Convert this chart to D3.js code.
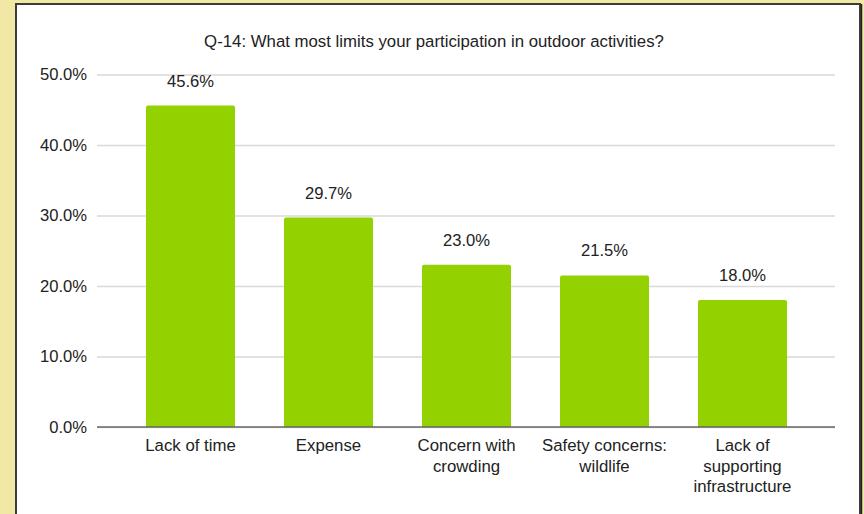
<!DOCTYPE html>
<html>
<head>
<meta charset="utf-8">
<script src="https://cdn.jsdelivr.net/npm/d3@7"></script>
<style>
  html, body { margin: 0; padding: 0; background: #f2e8a6; }
  svg { display: block; font-family: "Liberation Sans", Arial, sans-serif; }
</style>
</head>
<body>
<svg id="chart" width="864" height="514"></svg>
<script>
// Survey responses: share of respondents naming each limiting factor
const categories = [
  ["Lack of time"],
  ["Expense"],
  ["Concern with", "crowding"],
  ["Safety concerns:", "wildlife"],
  ["Lack of", "supporting", "infrastructure"]
];
const values = [45.6, 29.7, 23.0, 21.5, 18.0];
const yTicks = [0, 10, 20, 30, 40, 50];
const title = "Q-14: What most limits your participation in outdoor activities?";

const svg = d3.select("#chart");

// card panel with dark frame
svg.append("rect")
  .attr("x", 16).attr("y", 4)
  .attr("width", 844).attr("height", 530)
  .attr("fill", "#ffffff")
  .attr("stroke", "#3c3c3c")
  .attr("stroke-width", 2);
svg.append("line")
  .attr("x1", 861.5).attr("x2", 861.5)
  .attr("y1", 4).attr("y2", 514)
  .attr("stroke", "#222")
  .attr("stroke-width", 1.5);

const plot = { left: 97, right: 835, top: 74.5, bottom: 427 };

const y = d3.scaleLinear().domain([0, 50]).range([plot.bottom, plot.top]);
const x = d3.scaleBand()
  .domain(d3.range(values.length))
  .range([121.5, 811.5])
  .paddingInner(0.355)
  .paddingOuter(0.1775);

// gridlines + y tick labels
const yAxis = d3.axisLeft(y)
  .tickValues(yTicks)
  .tickSize(-(plot.right - plot.left))
  .tickPadding(10)
  .tickFormat(d => d.toFixed(1) + "%");

const gy = svg.append("g")
  .attr("transform", `translate(${plot.left},0)`)
  .call(yAxis);
gy.select(".domain").remove();
gy.selectAll(".tick line")
  .attr("stroke", "#d9d9d9")
  .attr("stroke-width", 1.5);
gy.selectAll(".tick text")
  .attr("fill", "#222")
  .attr("font-size", 16.6)
  .attr("x", -10);

// bars with softly rounded tops
const r = 2;
svg.append("g").selectAll("path")
  .data(values)
  .join("path")
  .attr("fill", "#93d100")
  .attr("d", (d, i) => {
    const x0 = x(i), w = x.bandwidth(), y0 = y(d), y1 = y(0);
    return `M${x0},${y1}V${y0 + r}Q${x0},${y0} ${x0 + r},${y0}H${x0 + w - r}Q${x0 + w},${y0} ${x0 + w},${y0 + r}V${y1}Z`;
  });

// baseline
svg.append("line")
  .attr("x1", plot.left).attr("x2", plot.right)
  .attr("y1", y(0)).attr("y2", y(0))
  .attr("stroke", "#666")
  .attr("stroke-width", 1.5);

// value labels
svg.append("g").selectAll("text")
  .data(values)
  .join("text")
  .attr("x", (d, i) => x(i) + x.bandwidth() / 2)
  .attr("y", d => y(d) - 19)
  .attr("text-anchor", "middle")
  .attr("font-size", 16.6)
  .attr("fill", "#222")
  .text(d => d.toFixed(1) + "%");

// category labels (wrapped)
const cat = svg.append("g").selectAll("text")
  .data(categories)
  .join("text")
  .attr("text-anchor", "middle")
  .attr("font-size", 16.8)
  .attr("fill", "#222")
  .attr("transform", (d, i) => `translate(${x(i) + x.bandwidth() / 2},${plot.bottom + 24})`);
cat.selectAll("tspan")
  .data(d => d)
  .join("tspan")
  .attr("x", 0)
  .attr("dy", (d, j) => j === 0 ? 0 : 20.5)
  .text(d => d);

// title
svg.append("text")
  .attr("x", 434).attr("y", 47)
  .attr("text-anchor", "middle")
  .attr("font-size", 16.8)
  .attr("fill", "#222")
  .text(title);
</script>
</body>
</html>
